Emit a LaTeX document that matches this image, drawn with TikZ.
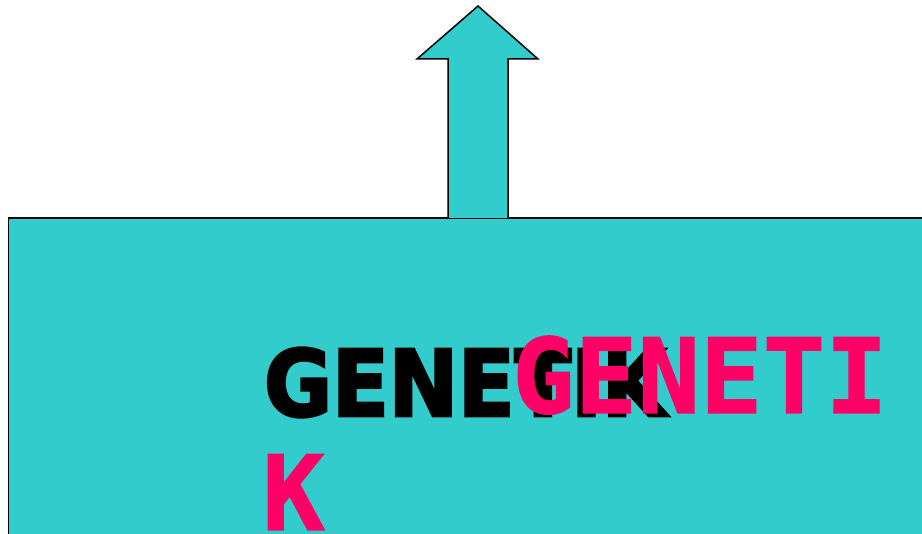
\documentclass[tikz,border=0pt]{standalone}
\usepackage{fontspec}
\usepackage{tikz}
\usetikzlibrary{positioning}
\newfontfamily\titlemono{DejaVu Sans Mono}[BoldFeatures={FakeBold=1.2}]
\newfontfamily\titleheavy{DejaVu Sans}[BoldFeatures={FakeBold=3, FakeStretch=0.9}]
\definecolor{panelteal}{RGB}{51,204,204}
\definecolor{titlepink}{RGB}{255,0,102}

\begin{document}
\begin{tikzpicture}[
    x=1pt, y=-1pt,
    panel/.style={draw=black, fill=panelteal, line width=1.5pt, line join=miter},
    shadow_text/.style={inner sep=0pt, font=\titleheavy\bfseries\fontsize{92}{110}\selectfont, text=black},
    title_text/.style={inner sep=0pt, font=\titlemono\bfseries\fontsize{104}{117}\selectfont, text=titlepink}
]
\useasboundingbox (0,0) rectangle (922,534);
\clip (0,0) rectangle (922,534);
% Panel
\path[panel] (8.5,218) rectangle (940,560);
% Arrow
\path[panel] (448,218) -- (448,59) -- (417,59) -- (478,6) -- (538,59) -- (508,59) -- (508,218);
% Texts
\node[shadow_text, anchor=base west] (shadow) at (264,416) {GENETIK};
\node[title_text, anchor=base west] (title) at (512,413) {GENETI};
\node[title_text, anchor=base west] (title_end) at (262,530) {K};
\end{tikzpicture}
\end{document}
